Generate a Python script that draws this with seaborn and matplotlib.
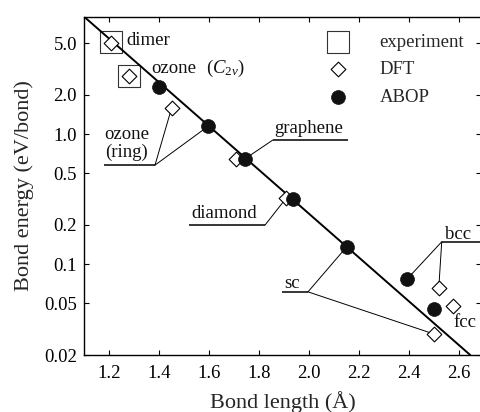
import matplotlib
matplotlib.use("Agg")
import matplotlib.pyplot as plt
import seaborn as sns
import pandas as pd
from matplotlib.ticker import NullLocator

# ---------------- data ----------------
exp_r = [1.207, 1.279]
exp_e = [5.1, 2.8]

dft_r = [1.207, 1.279, 1.451, 1.708, 1.908, 2.500, 2.519, 2.577]
dft_e = [5.0, 2.8, 1.60, 0.64, 0.32, 0.029, 0.065, 0.048]

abop_r = [1.400, 1.597, 1.744, 1.935, 2.151, 2.393, 2.500]
abop_e = [2.30, 1.15, 0.645, 0.316, 0.136, 0.077, 0.045]

fit_r = [1.10, 2.645]
fit_e = [8.0, 0.02]

xticks = [1.2, 1.4, 1.6, 1.8, 2.0, 2.2, 2.4, 2.6]
xticklabels = ["1.2", "1.4", "1.6", "1.8", "2.0", "2.2", "2.4", "2.6"]
yticks = [0.02, 0.05, 0.1, 0.2, 0.5, 1.0, 2.0, 5.0]
yticklabels = ["0.02", "0.05", "0.1", "0.2", "0.5", "1.0", "2.0", "5.0"]

# ---------------- style ----------------
sns.set_theme(style="ticks")
plt.rcParams["font.family"] = ["Liberation Serif", "DejaVu Serif"]
plt.rcParams["mathtext.fontset"] = "custom"
plt.rcParams["mathtext.rm"] = "Liberation Serif"
plt.rcParams["mathtext.it"] = "Liberation Serif:italic"

fig = plt.figure(figsize=(4.8, 4.12), dpi=100)
ax = fig.add_axes([0.175, 0.1383, 0.8281, 0.8214])

df_exp = pd.DataFrame({"r": exp_r, "e": exp_e})
df_dft = pd.DataFrame({"r": dft_r, "e": dft_e})
df_abop = pd.DataFrame({"r": abop_r, "e": abop_e})
df_fit = pd.DataFrame({"r": fit_r, "e": fit_e})

sns.scatterplot(data=df_exp, x="r", y="e", marker="s", s=240, facecolor="white",
                edgecolor="#333333", linewidth=0.8, ax=ax, zorder=2, label="experiment")
sns.lineplot(data=df_fit, x="r", y="e", color="black", linewidth=1.4, ax=ax, zorder=3)
sns.scatterplot(data=df_dft, x="r", y="e", marker="D", s=56, facecolor="white",
                edgecolor="black", linewidth=0.8, ax=ax, zorder=4, label="DFT")
sns.scatterplot(data=df_abop, x="r", y="e", marker="o", s=100, color="#111111",
                edgecolor="#111111", linewidth=0.5, ax=ax, zorder=5, label="ABOP")

ax.set_yscale("log")
ax.set_xlim(1.1, 2.69)
ax.set_ylim(0.02, 8.0)
ax.set_xticks(xticks)
ax.set_xticklabels(xticklabels)
ax.set_yticks(yticks)
ax.set_yticklabels(yticklabels)
ax.yaxis.set_minor_locator(NullLocator())
ax.xaxis.set_minor_locator(NullLocator())
ax.tick_params(axis="both", which="major", direction="in", length=3.5, width=0.8,
               top=True, right=True, labelsize=13.5, colors="black")
ax.tick_params(axis="x", pad=7)
ax.tick_params(axis="y", pad=5)
for sp in ax.spines.values():
    sp.set_visible(True)
    sp.set_linewidth(1.0)
    sp.set_color("black")

ax.set_xlabel("Bond length (Å)", fontsize=16, labelpad=6.5)
ax.set_ylabel("Bond energy (eV/bond)", fontsize=16, labelpad=7)

# ---------------- annotations ----------------
TXT = dict(fontsize=13.5, color="#111111")
ULW = 1.1
LLW = 0.7


def underline(x0, x1, y):
    ax.plot([x0, x1], [y, y], color="black", lw=ULW, zorder=1, solid_capstyle="butt")


def leader(x0, y0, x1, y1):
    ax.plot([x0, x1], [y0, y1], color="black", lw=LLW, zorder=1)


ax.text(1.271, 5.28, "dimer", ha="left", va="center", **TXT)
ax.text(1.368, 3.22, "ozone", ha="left", va="center", **TXT)
ax.text(1.588, 3.22, r"($C_{2v}$)", ha="left", va="center", **TXT)

# ozone (ring)
ax.text(1.272, 0.853, "ozone\n(ring)", ha="center", va="center", linespacing=1.05, **TXT)
underline(1.18, 1.384, 0.577)
leader(1.384, 0.577, dft_r[2], dft_e[2])
leader(1.384, 0.577, abop_r[1], abop_e[1])

# graphene
ax.text(1.86, 1.11, "graphene", ha="left", va="center", **TXT)
underline(1.855, 2.156, 0.899)
leader(1.855, 0.899, abop_r[2], abop_e[2])

# diamond
ax.text(1.531, 0.247, "diamond", ha="left", va="center", **TXT)
underline(1.52, 1.824, 0.1995)
leader(1.824, 0.1995, dft_r[4], dft_e[4])

# sc
ax.text(1.932, 0.0714, "sc", ha="center", va="center", **TXT)
underline(1.892, 1.996, 0.0612)
leader(1.996, 0.0612, abop_r[4], abop_e[4])
leader(1.996, 0.0612, dft_r[5], dft_e[5])

# bcc
ax.text(2.544, 0.170, "bcc", ha="left", va="center", **TXT)
underline(2.531, 2.69, 0.1485)
leader(2.531, 0.1485, abop_r[5], abop_e[5])
leader(2.531, 0.1485, dft_r[6], dft_e[6])

# fcc
ax.text(2.576, 0.0358, "fcc", ha="left", va="center", **TXT)

# legend
ax.legend(loc="upper left", bbox_to_anchor=(0.616, 0.95), frameon=False,
          fontsize=13.5, handlelength=1.0, handletextpad=1.7, labelspacing=0.55,
          borderpad=0, borderaxespad=0)

fig.savefig("out.png", dpi=100)
